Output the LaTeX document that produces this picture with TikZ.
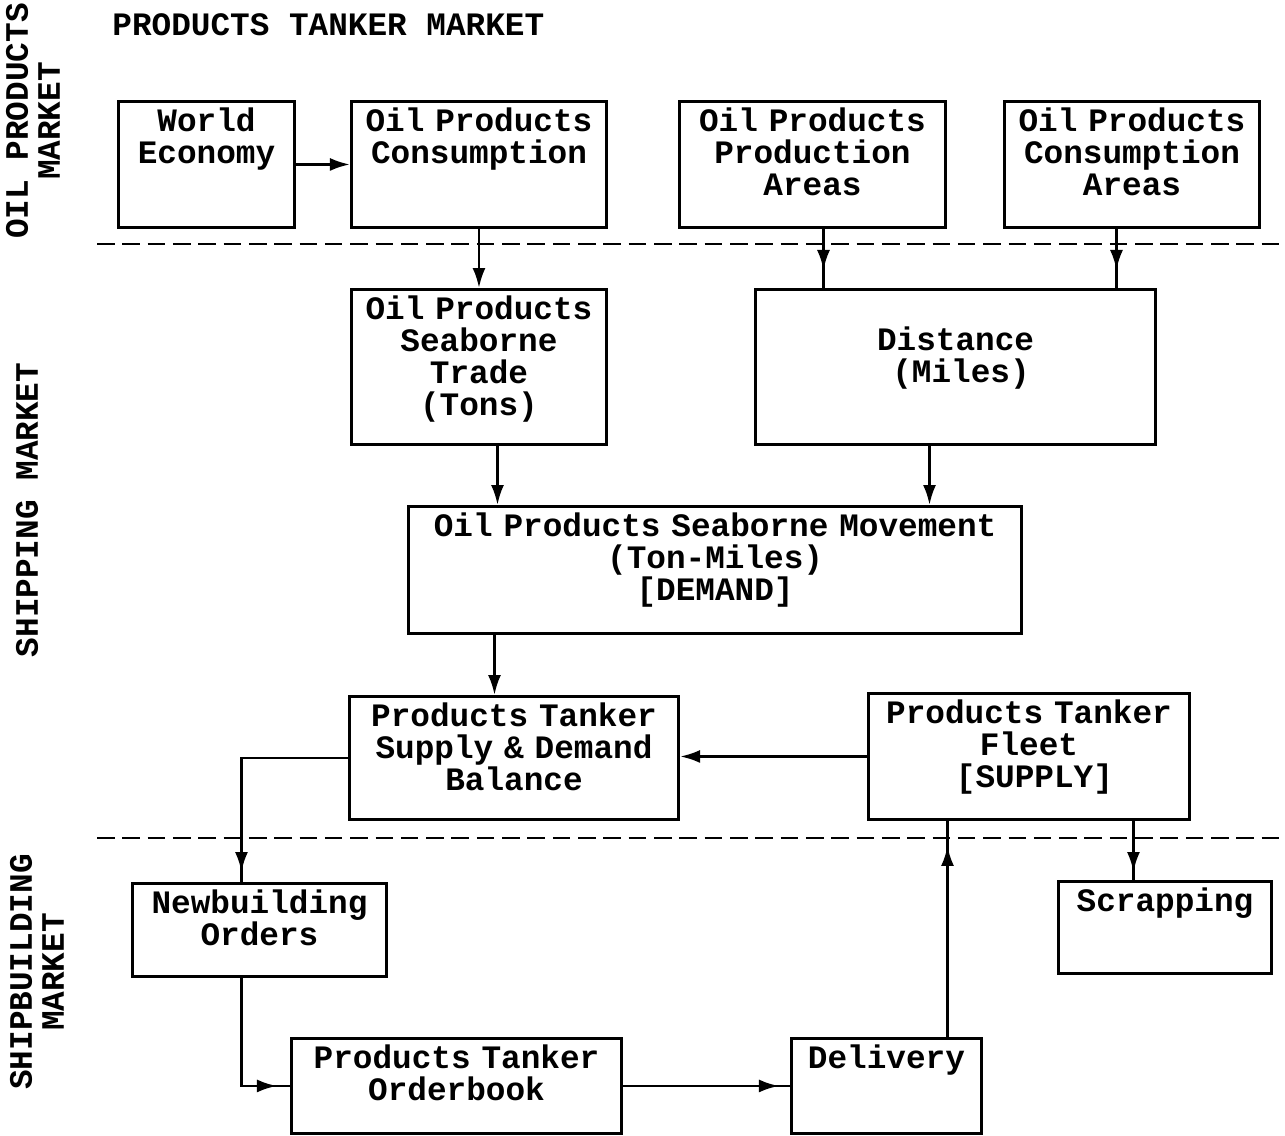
\documentclass[tikz,border=0pt]{standalone}
\usepackage{fontspec}
\setmainfont{Liberation Mono}[WordSpace={1,0,0}]
\usepackage{tikz}
\usetikzlibrary{arrows.meta,decorations.markings,positioning}

\begin{document}
\begin{tikzpicture}[x=0.01cm,y=-0.01cm,font=\fontsize{9.3}{9.1}\selectfont\bfseries]
\tikzset{
     box/.style={draw, line width=0.8pt, inner sep=0pt, align=center,
                 text height=0.30cm, anchor=north west},
     conn/.style={line width=0.8pt, -{Latex[length=2mm,width=1.3mm]}},
     midconn/.style={line width=0.8pt, postaction={decorate},
                 decoration={markings, mark=at position #1 with {\arrow{Latex[length=2mm,width=1.3mm]}}}},
     divider/.style={line width=0.8pt, dash pattern=on 5pt off 2.2pt}}

\useasboundingbox (0,0) rectangle (1285,1135);

% The headings
\node (title) [anchor=base west] at (100,35) {PRODUCTS TANKER MARKET};
\node (oilmkt)  [rotate=90, align=center] at (33,121) {OIL PRODUCTS\\MARKET};
\node (shipmkt) [rotate=90, align=center] at (27,510) {SHIPPING MARKET};
\node (yardmkt) [rotate=90, align=center] at (37,972) {SHIPBUILDING\\MARKET};

% The market borders
\draw [divider] (97,244) -- (1285,244);
\draw [divider] (97,838) -- (1285,838);

% The boxes
\node (worldeco) [box, text width=1.76cm, text depth=0.96cm] at (117,100) {World\\Economy};
\node (consump)  [box, text width=2.55cm, text depth=0.96cm] at (350,100) {Oil Products\\Consumption};
\node (prodarea) [box, text width=2.66cm, text depth=0.96cm] at (678,100) {Oil Products\\Production\\Areas};
\node (consarea) [box, text width=2.55cm, text depth=0.96cm] at (1003,100) {Oil Products\\Consumption\\Areas};

\node (trade)    [box, text width=2.55cm, text depth=1.25cm] at (350,288) {Oil Products\\Seaborne\\Trade\\(Tons)};
\node (distance) [box, text width=4.00cm, text height=0.61cm, text depth=0.94cm] at (754,288) {Distance\\~(Miles)};

\node (movement) [box, text width=6.13cm, text depth=0.97cm] at (407,505) {Oil Products Seaborne Movement\\(Ton-Miles)\\{[DEMAND]}};

\node (balance)  [box, text width=3.29cm, text depth=0.93cm] at (348,695) {Products Tanker\\Supply \& Demand\\Balance};
\node (fleet)    [box, text width=3.21cm, text depth=0.96cm] at (867,692) {Products Tanker\\Fleet\\~[SUPPLY]};

\node (newbuild) [box, text width=2.54cm, text depth=0.63cm] at (131,882) {Newbuilding\\Orders};
\node (scrap)    [box, text width=2.13cm, text depth=0.62cm] at (1057,880) {Scrapping};
\node (orderbk)  [box, text width=3.30cm, text depth=0.65cm] at (290,1037) {Products Tanker\\Orderbook};
\node (delivery) [box, text width=1.90cm, text depth=0.65cm] at (790,1037) {Delivery};

% The arrows
\draw [conn] (worldeco) -- (consump);
\draw [conn] (consump.south) -- (trade.north);
\draw [midconn=-0.18cm] ([xshift=0.11cm]prodarea.south) -- ([xshift=0.11cm]prodarea.south |- distance.north);
\draw [midconn=-0.18cm] ([xshift=-0.155cm]consarea.south) -- ([xshift=-0.155cm]consarea.south |- distance.north);
\draw [conn] ([xshift=0.185cm]trade.south) -- ([xshift=0.185cm]trade.south |- movement.north);
\draw [conn] ([xshift=-0.26cm]distance.south) -- ([xshift=-0.26cm]distance.south |- movement.north);
\draw [conn] ([xshift=-0.195cm]balance.north |- movement.south) -- ([xshift=-0.195cm]balance.north);
\draw [conn] (fleet.west) -- (fleet.west -| balance.east);
\draw [midconn=-0.1cm] (balance.west) -| ([xshift=-0.18cm]newbuild.north);
\draw [midconn=-0.08cm] ([xshift=-0.315cm]scrap.north |- fleet.south) -- ([xshift=-0.315cm]scrap.north);
\draw [midconn=-0.13cm] ([xshift=-0.18cm]newbuild.south) |- (orderbk.west);
\draw [midconn=-0.11cm] (orderbk.east) -- (delivery.west);
\draw [midconn=-0.25cm] ([xshift=0.61cm]delivery.north) -- ([xshift=0.61cm]delivery.north |- fleet.south);
\end{tikzpicture}
\end{document}
